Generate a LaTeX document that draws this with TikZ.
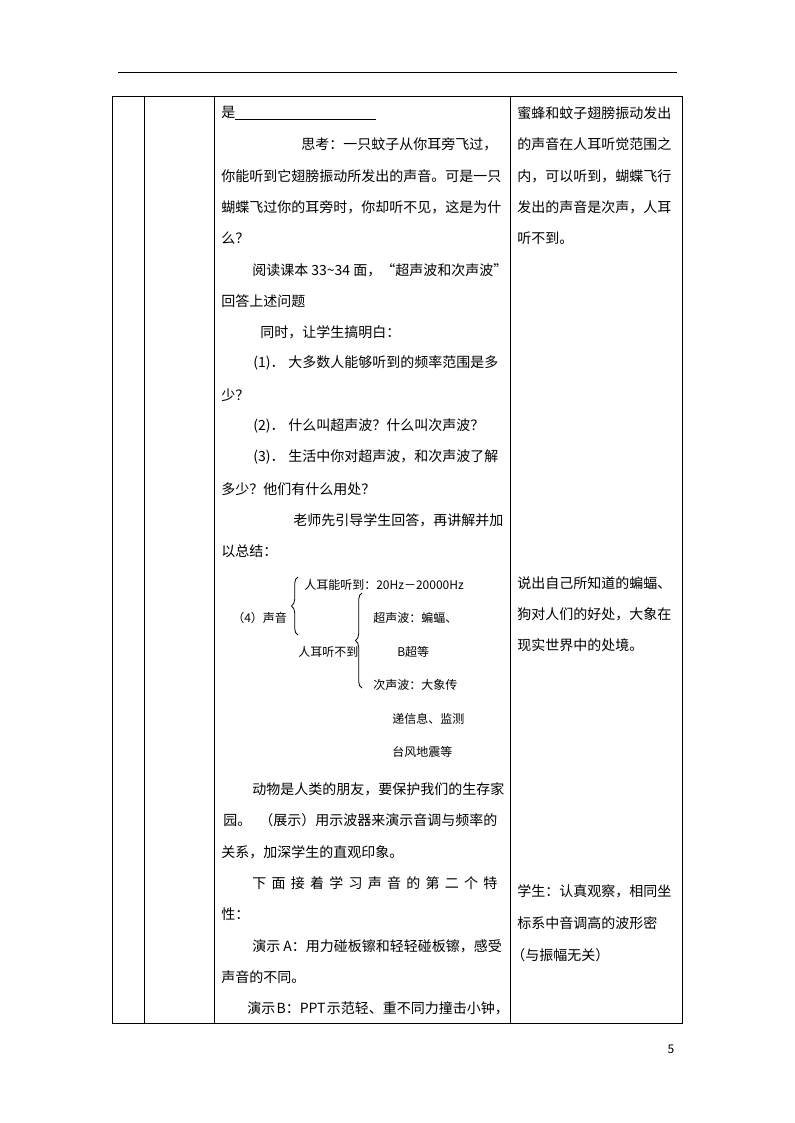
\documentclass[tikz,border=0pt]{standalone}
\usepackage{fontspec}
\setmainfont{Noto Sans CJK SC}
\usetikzlibrary{decorations.pathreplacing}
\tikzset{>=stealth}
\tikzset{
  txt/.style={anchor=west, inner sep=0pt, font=\fontsize{10.5}{12}\selectfont},
  txtsmall/.style={anchor=west, inner sep=0pt, font=\fontsize{9}{11}\selectfont},
  frame/.style={line width=0.75pt},
  curly/.style={decorate, decoration={brace, amplitude=5pt}, line width=0.6pt}
}

\begin{document}
\begin{tikzpicture}[x=0.75pt, y=-0.75pt]
    \useasboundingbox (0,0) rectangle (794,1123);
    \draw[frame] (118,73) -- (677,73);
    \draw[frame] (112,97) rectangle (682,1023);
    \draw[frame] (144,97) -- (144,1023);
    \draw[frame] (214,97) -- (214,1023);
    \draw[frame] (510,97) -- (510,1023);

    \node[txt] (l0) at (221,113) {是\rule[-2pt]{105.75pt}{0.6pt}};
    \node[txt] (l1) at (301,144) {思考：一只蚊子从你耳旁飞过，};
    \node[txt] (l2) at (221,176) {你能听到它翅膀振动所发出的声音。可是一只};
    \node[txt] (l3) at (221,207) {蝴蝶飞过你的耳旁时，你却听不见，这是为什};
    \node[txt] (l4) at (221,238) {么？};
    \node[txt] (l5) at (252,270) {阅读课本 33\textasciitilde34 面，“超声波和次声波”};
    \node[txt] (l6) at (221,301) {回答上述问题};
    \node[txt] (l7) at (260,332) {同时，让学生搞明白：};
    \node[txt] (l8) at (253,363) {(1)．\hspace{3pt}大多数人能够听到的频率范围是多};
    \node[txt] (l9) at (221,395) {少？};
    \node[txt] (l10) at (253,426) {(2)．\hspace{3pt}什么叫超声波？什么叫次声波？};
    \node[txt] (l11) at (253,457) {(3)．\hspace{3pt}生活中你对超声波，和次声波了解};
    \node[txt] (l12) at (221,489) {多少？他们有什么用处？};
    \node[txt] (l13) at (293,520) {老师先引导学生回答，再讲解并加};
    \node[txt] (l14) at (221,551) {以总结：};

    \node[txtsmall] (hear) at (304,585) {人耳能听到：20Hz－20000Hz};
    \node[txtsmall] (sound) at (232,618) {（4）声音};
    \node[txtsmall] (nohear) at (298,652) {人耳听不到};
    \node[txtsmall] (ultra) at (373,618) {超声波：蝙蝠、};
    \node[txtsmall] (ultra2) at (397,652) {B超等};
    \node[txtsmall] (infra) at (373,685) {次声波：大象传};
    \node[txtsmall] (infra2) at (392,719) {递信息、监测};
    \node[txtsmall] (infra3) at (392,752) {台风地震等};
    \coordinate (b1top) at (298,577);
    \coordinate (b1bot) at (298,635);
    \coordinate (b2top) at (362,593);
    \coordinate (b2bot) at (362,688);
    \draw[curly] (b1bot) -- (b1top);
    \draw[curly] (b2bot) -- (b2top);

    \node[txt] (m0) at (252,789) {动物是人类的朋友，要保护我们的生存家};
    \node[txt] (m1) at (223,820) {园。\hspace{6pt}（展示）用示波器来演示音调与频率的};
    \node[txt] (m2) at (221,852) {关系，加深学生的直观印象。};
    \node[txt] (m3) at (252,883) {\makebox[183.75pt][s]{下 面 接 着 学 习 声 音 的 第 二 个 特}};
    \node[txt] (m4) at (221,914) {性：};
    \node[txt] (m5) at (252,946) {演示 A：用力碰板镲和轻轻碰板镲，感受};
    \node[txt] (m6) at (221,977) {声音的不同。};
    \node[txt] (m7) at (247,1008) {演示\hspace{1pt}B：PPT\hspace{1pt}示范轻、重不同力撞击小钟，};

    \node[txt] (r0) at (517,113) {蜜蜂和蚊子翅膀振动发出};
    \node[txt] (r1) at (517,144) {的声音在人耳听觉范围之};
    \node[txt] (r2) at (517,176) {内，可以听到，蝴蝶飞行};
    \node[txt] (r3) at (517,207) {发出的声音是次声，人耳};
    \node[txt] (r4) at (517,238) {听不到。};
    \node[txt] (r5) at (517,583) {说出自己所知道的蝙蝠、};
    \node[txt] (r6) at (517,614) {狗对人们的好处，大象在};
    \node[txt] (r7) at (517,645) {现实世界中的处境。};
    \node[txt] (r8) at (517,891) {学生：认真观察，相同坐};
    \node[txt] (r9) at (517,923) {标系中音调高的波形密};
    \node[txt] (r10) at (511,955) {（与振幅无关）};

    \node[font=\fontsize{9}{10}\selectfont, inner sep=0pt] (page) at (671,1049) {5};
\end{tikzpicture}
\end{document}
